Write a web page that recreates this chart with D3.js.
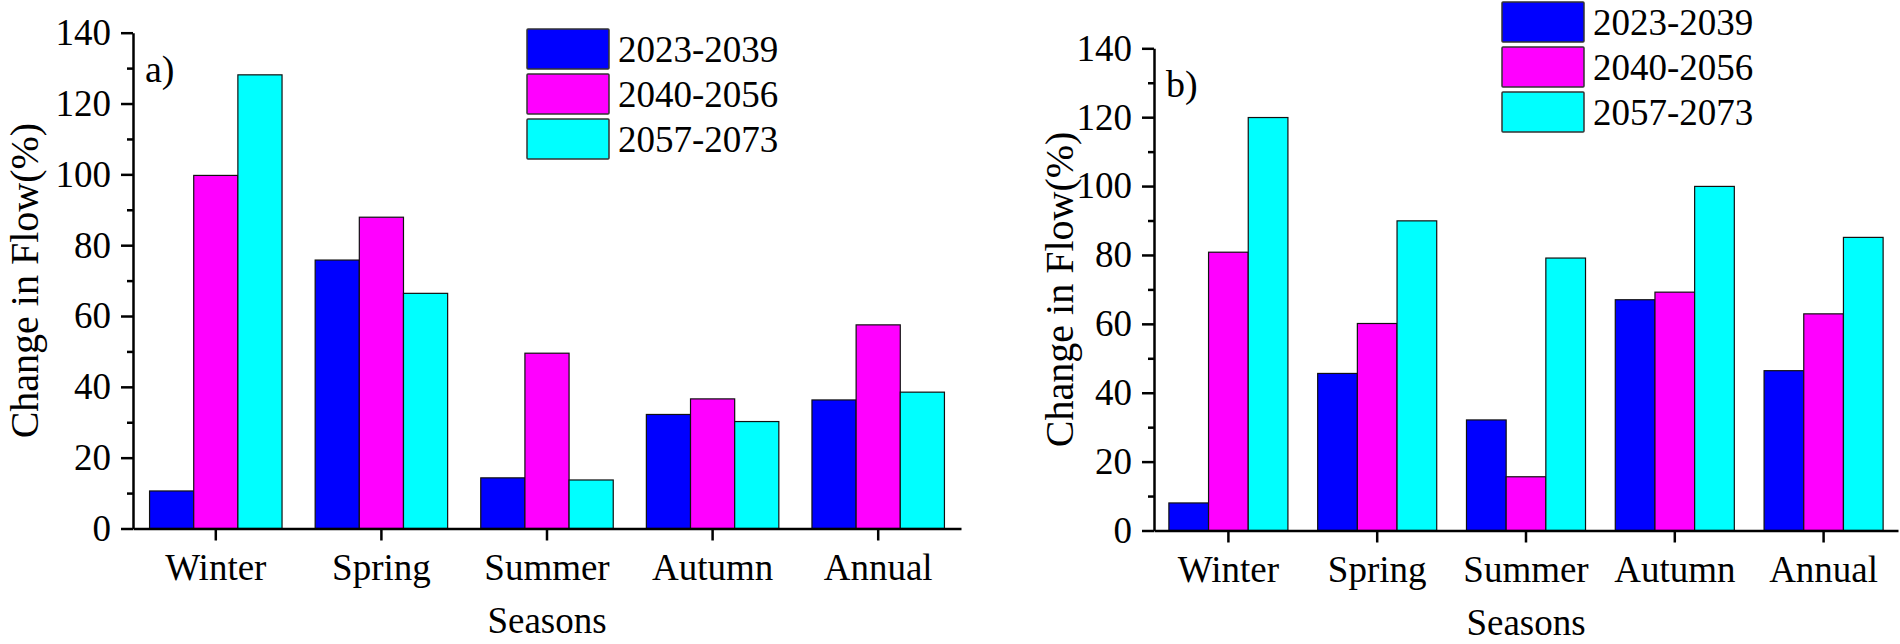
<!DOCTYPE html>
<html>
<head>
<meta charset="utf-8">
<script src="https://cdn.jsdelivr.net/npm/d3@7"></script>
<style>
  body { margin: 0; background: #fff; }
  svg text { font-family: "Liberation Serif", "Times New Roman", Tinos, "DejaVu Serif", serif !important; fill: #000; }
</style>
</head>
<body>
<div id="chart"></div>
<script>
// data
var seasons = ["Winter", "Spring", "Summer", "Autumn", "Annual"];
var periods = ["2023-2039", "2040-2056", "2057-2073"];
var colors = ["#0000ff", "#ff00ff", "#00ffff"];
var yTicks = [0, 20, 40, 60, 80, 100, 120, 140];

// panel a) values per period
var a2023 = [10.6, 75.8, 14.3, 32.2, 36.3];
var a2040 = [99.7, 87.9, 49.5, 36.6, 57.5];
var a2057 = [128.1, 66.4, 13.7, 30.2, 38.5];

// panel b) values per period
var b2023 = [8.0, 45.6, 32.1, 67.0, 46.4];
var b2040 = [80.8, 60.1, 15.6, 69.2, 62.9];
var b2057 = [119.9, 89.9, 79.1, 99.9, 85.1];

var svg = d3.select("#chart")
  .append("svg")
  .attr("width", 1900)
  .attr("height", 644);

// draw one panel
function drawPanel(opt) {
  var series = opt.series;
  var g = svg.append("g");

  var x = d3.scaleBand()
    .domain(seasons)
    .range([opt.left, opt.right])
    .paddingInner(0.2)
    .paddingOuter(0.1);

  var xs = d3.scaleBand()
    .domain(periods)
    .range([0, x.bandwidth()]);

  var y = d3.scaleLinear()
    .domain([0, 140])
    .range([opt.bottom, opt.top]);

  // bars
  var rows = [];
  seasons.forEach(function (s, i) {
    periods.forEach(function (p, j) {
      rows.push({ season: s, period: p, k: j, value: series[j][i] });
    });
  });

  g.append("g")
    .selectAll("rect")
    .data(rows)
    .enter()
    .append("rect")
    .attr("x", function (d) { return x(d.season) + xs(d.period); })
    .attr("y", function (d) { return y(d.value); })
    .attr("width", xs.bandwidth())
    .attr("height", function (d) { return y(0) - y(d.value); })
    .style("fill", function (d) { return colors[d.k]; })
    .style("stroke", "#111")
    .style("stroke-width", 1.2);

  // minor y ticks
  g.append("g")
    .attr("transform", "translate(" + opt.left + ",0)")
    .call(d3.axisLeft(y).tickValues(d3.range(10, 140, 20)).tickSize(6).tickFormat(""))
    .call(function (ax) {
      ax.select(".domain").remove();
      ax.selectAll("line").attr("stroke-width", 2.5);
    });

  // y axis
  g.append("g")
    .attr("transform", "translate(" + opt.left + ",0)")
    .call(d3.axisLeft(y).tickValues(yTicks).tickSize(12).tickSizeOuter(0).tickPadding(10))
    .call(function (ax) {
      ax.select(".domain").attr("stroke-width", 2.5);
      ax.selectAll("line").attr("stroke-width", 2.5);
      ax.selectAll("text").style("font-size", "37px");
    });

  // x axis
  g.append("g")
    .attr("transform", "translate(0," + opt.bottom + ")")
    .call(d3.axisBottom(x).tickSize(12).tickSizeOuter(0).tickPadding(13))
    .call(function (ax) {
      ax.select(".domain").attr("stroke-width", 2.5);
      ax.selectAll("line").attr("stroke-width", 2.5);
      ax.selectAll("text").style("font-size", "37px");
    });

  // axis titles
  g.append("text")
    .attr("x", (opt.left + opt.right) / 2)
    .attr("y", opt.bottom + 104)
    .style("text-anchor", "middle")
    .style("font-size", "37px")
    .text("Seasons");

  g.append("text")
    .attr("transform", "translate(" + opt.yTitleX + "," + ((opt.top + opt.bottom) / 2) + ") rotate(-90)")
    .attr("dy", "0.35em")
    .style("text-anchor", "middle")
    .style("font-size", "40px")
    .text("Change in Flow(%)");

  // panel letter
  g.append("text")
    .attr("x", opt.left + 12)
    .attr("y", opt.letterY)
    .style("font-size", "38px")
    .text(opt.letter);

  // legend
  var lg = g.append("g")
    .attr("transform", "translate(" + opt.legendX + "," + opt.legendY + ")");
  periods.forEach(function (p, j) {
    lg.append("rect")
      .attr("x", 0)
      .attr("y", j * 45)
      .attr("width", 82)
      .attr("height", 40)
      .attr("rx", 1)
      .style("fill", colors[j])
      .style("stroke", "#333")
      .style("stroke-width", 1.5);
    lg.append("text")
      .attr("x", 91)
      .attr("y", j * 45 + 20)
      .attr("dy", "0.35em")
      .style("font-size", "37px")
      .text(p);
  });
}

drawPanel({
  series: [a2023, a2040, a2057],
  left: 133, right: 961, top: 32.7, bottom: 528.5,
  yTitleX: 24, letter: "a)", letterY: 82,
  legendX: 527, legendY: 29
});

drawPanel({
  series: [b2023, b2040, b2057],
  left: 1154, right: 1898, top: 48.3, bottom: 530.5,
  yTitleX: 1059, letter: "b)", letterY: 97,
  legendX: 1502, legendY: 2
});
</script>
</body>
</html>
